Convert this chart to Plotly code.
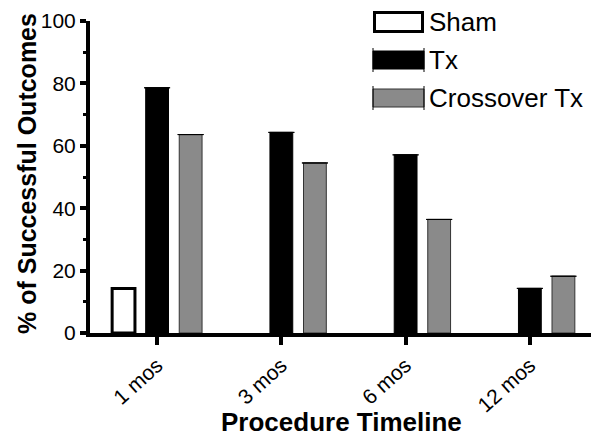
import plotly.graph_objects as go

categories = ["1 mos", "3 mos", "6 mos", "12 mos"]
series_names = ["Sham", "Tx", "Crossover Tx"]
sham = [14.3, 0, 0, 0]
tx = [78.6, 64.3, 57.1, 14.3]
crossover = [63.6, 54.5, 36.4, 18.2]
y_ticks = [0, 20, 40, 60, 80, 100]

fills = ["white", "black", "#8a8a8a"]
lines = ["black", "black", "#333333"]
linew = [3, 1, 1]

# page body has an 8px default margin; figure sized to fit the window
OFF = 8
W, H = 599 - OFF, 438 - OFF
L, R, T, B = 90 - OFF, 7, 21 - OFF, 105
PW, PH = W - L - R, H - T - B

def px_x(x):
    # screen x -> paper
    return (x - OFF - L) / PW

def px_y(y):
    # screen y -> paper
    return (H - B - (y - OFF)) / PH

fig = go.Figure()
for i, (name, vals) in enumerate(zip(series_names, [sham, tx, crossover])):
    lw = [linew[i] if v else 0 for v in vals]
    fig.add_trace(go.Bar(
        x=categories, y=vals, name=name,
        marker=dict(color=fills[i], line=dict(color=lines[i], width=lw)),
        error_y=dict(type="data", array=[0] * len(vals), visible=(i > 0),
                     width=13, thickness=1, color="black"),
        showlegend=False,
    ))

shapes = []
annotations = []
# custom legend
leg_y = [22, 60, 98]
for i, name in enumerate(series_names):
    yc = leg_y[i]
    if i == 0:
        shapes.append(dict(type="rect", xref="paper", yref="paper",
                           x0=px_x(374.5), x1=px_x(422.5), y0=px_y(yc - 9.5), y1=px_y(yc + 9.5),
                           fillcolor="white", line=dict(color="black", width=3)))
    else:
        shapes.append(dict(type="rect", xref="paper", yref="paper",
                           x0=px_x(373), x1=px_x(424), y0=px_y(yc - 9), y1=px_y(yc + 9),
                           fillcolor=fills[i], line=dict(color=lines[i], width=1)))
        for xe in (373, 424):
            shapes.append(dict(type="line", xref="paper", yref="paper",
                               x0=px_x(xe), x1=px_x(xe), y0=px_y(yc - 12), y1=px_y(yc + 12),
                               line=dict(color="black", width=1)))
    annotations.append(dict(text=name, xref="paper", yref="paper",
                            x=px_x(427), y=px_y(yc), xanchor="left", yanchor="middle",
                            showarrow=False,
                            font=dict(family="Liberation Sans, Arial, sans-serif", size=26, color="black")))

annotations.append(dict(text="<b>% of Successful Outcomes</b>", xref="paper", yref="paper",
                        x=px_x(27), y=px_y(174), textangle=-90, showarrow=False,
                        xanchor="center", yanchor="middle",
                        font=dict(family="Liberation Sans, Arial, sans-serif", size=25, color="black")))
annotations.append(dict(text="<b>Procedure Timeline</b>", xref="paper", yref="paper",
                        x=px_x(341), y=px_y(422), showarrow=False,
                        xanchor="center", yanchor="middle",
                        font=dict(family="Liberation Sans, Arial, sans-serif", size=26, color="black")))

fig.update_layout(
    width=W, height=H,
    margin=dict(l=L, r=R, t=T, b=B, autoexpand=False),
    paper_bgcolor="white", plot_bgcolor="white",
    barmode="group", bargap=0.19, bargroupgap=0.32,
    shapes=shapes, annotations=annotations,
    showlegend=False,
)
fig.update_xaxes(
    range=[-0.54, 3.50],
    showgrid=False, zeroline=False,
    showline=True, linecolor="black", linewidth=4,
    ticks="outside", ticklen=8, tickwidth=4, tickcolor="black",
    tickangle=-42,
    tickfont=dict(family="Liberation Sans, Arial, sans-serif", size=21, color="black"),
)
fig.update_yaxes(
    range=[0, 100], tickvals=y_ticks, ticklabeloverflow="allow",
    showgrid=False, zeroline=False,
    showline=True, linecolor="black", linewidth=4,
    ticks="outside", ticklen=6, tickwidth=4, tickcolor="black",
    minor=dict(ticks="outside", ticklen=3, tickwidth=3, tickcolor="black", dtick=10),
    tickfont=dict(family="Liberation Sans, Arial, sans-serif", size=21, color="black"),
)

fig.write_html("out.html")
